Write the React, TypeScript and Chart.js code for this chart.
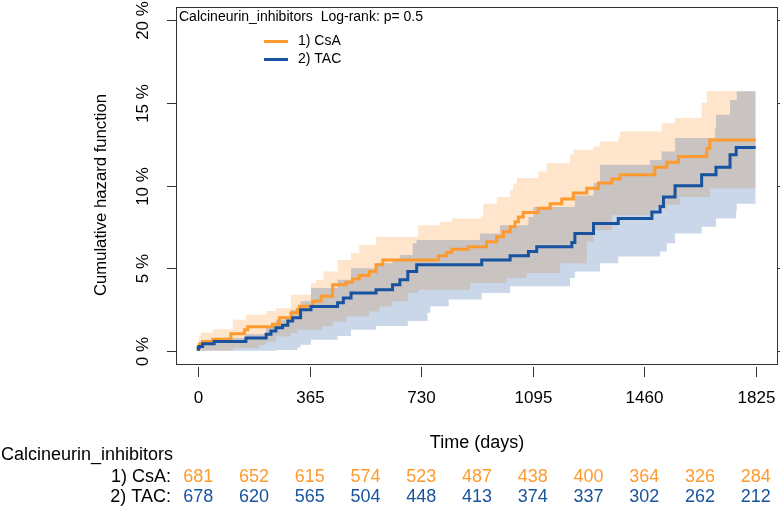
import React, { useEffect, useRef } from "react";
import { Chart, registerables } from "chart.js";

Chart.register(...registerables);

const GROUP_LABEL = "Calcineurin_inhibitors";
const PVALUE_TEXT = "Log-rank: p= 0.5";
const SERIES_NAMES = ["1) CsA", "2) TAC"];
const X_TITLE = "Time (days)";
const Y_TITLE = "Cumulative hazard function";
const X_TICKS = [0, 365, 730, 1095, 1460, 1825];
const Y_TICKS = [0, 5, 10, 15, 20];
const RISK_TIMES = [0, 182.5, 365, 547.5, 730, 912.5, 1095, 1277.5, 1460, 1642.5, 1825];
const RISK_CSA = [681, 652, 615, 574, 523, 487, 438, 400, 364, 326, 284];
const RISK_TAC = [678, 620, 565, 504, 448, 413, 374, 337, 302, 262, 212];

// [day, cumulative hazard %]
const CSA_CURVE: [number, number][] = [
  [0, 0], [3, 0.26], [14, 0.4], [47, 0.56], [107, 0.7], [151, 1.03], [162, 1.27], [243, 1.45],
  [265, 1.6], [303, 2.0], [325, 2.3], [331, 2.5], [375, 2.7], [402, 3.0], [440, 3.3], [484, 4.0],
  [505, 4.15], [527, 4.34], [560, 4.55], [582, 4.8], [604, 5.2], [786, 5.5], [813, 5.75], [830, 5.95],
  [884, 6.15], [944, 6.3], [977, 6.6], [999, 6.9], [1021, 7.2], [1037, 7.5], [1048, 7.8], [1064, 8.1],
  [1113, 8.37], [1152, 8.63], [1190, 8.9], [1228, 9.18], [1272, 9.54], [1310, 9.84], [1354, 10.15],
  [1381, 10.4], [1495, 10.65], [1534, 11.1], [1572, 11.4], [1665, 11.75], [1675, 12.26], [1692, 12.76],
  [1825, 12.76],
];
const TAC_CURVE: [number, number][] = [
  [0, 0], [3, 0.2], [14, 0.26], [52, 0.42], [156, 0.56], [222, 0.77], [238, 1.0], [254, 1.2],
  [276, 1.4], [293, 1.55], [309, 1.8], [335, 2.0], [369, 2.48], [456, 2.68], [475, 2.9], [500, 3.19],
  [582, 3.5], [636, 3.7], [660, 4.0], [686, 4.3], [715, 4.8], [928, 5.2], [1021, 5.5], [1081, 5.75],
  [1108, 6.0], [1223, 6.3], [1233, 6.55], [1294, 7.1], [1375, 7.7], [1485, 8.0], [1512, 8.4],
  [1523, 8.73], [1561, 9.3], [1648, 9.98], [1695, 10.65], [1741, 11.1], [1761, 11.86], [1812, 12.3],
  [1825, 12.3],
];
const CSA_UPPER: [number, number][] = [
  [0, 0.3], [3, 0.56], [8, 0.9], [47, 1.1], [113, 1.3], [156, 1.87], [200, 2.18], [254, 2.4],
  [303, 2.58], [325, 3.39], [385, 4.1], [407, 4.3], [440, 4.8], [484, 5.5], [527, 5.9], [560, 6.4],
  [593, 6.9], [792, 7.6], [830, 7.8], [890, 8.0], [933, 8.2], [977, 8.9], [1010, 9.3], [1031, 9.7],
  [1043, 10.1], [1075, 10.45], [1141, 10.85], [1184, 11.35], [1228, 11.86], [1272, 12.16],
  [1315, 12.36], [1354, 12.66], [1381, 12.9], [1495, 13.27], [1534, 13.77], [1577, 14.08],
  [1665, 15.0], [1675, 15.7], [1825, 15.7],
];
const CSA_LOWER: [number, number][] = [
  [0, 0], [156, 0.16], [222, 0.36], [254, 0.56], [303, 0.87], [325, 1.07], [369, 1.27], [410, 1.5],
  [456, 1.77], [500, 2.08], [582, 2.38], [636, 2.68], [686, 3.0], [720, 3.5], [792, 3.7], [928, 4.1],
  [1021, 4.4], [1113, 4.7], [1217, 5.3], [1294, 6.6], [1315, 7.3], [1375, 8.2], [1517, 8.6],
  [1561, 8.83], [1648, 9.3], [1692, 9.84], [1825, 9.84],
];
const TAC_UPPER: [number, number][] = [
  [0, 0.2], [3, 0.4], [47, 0.56], [156, 0.77], [222, 1.0], [254, 1.47], [303, 1.87], [325, 2.48],
  [369, 3.0], [456, 3.8], [500, 4.3], [582, 5.0], [636, 5.3], [660, 5.5], [686, 5.8], [715, 6.5],
  [750, 6.7], [928, 7.1], [1021, 7.6], [1097, 8.1], [1217, 8.7], [1294, 9.4], [1315, 10.15],
  [1375, 11.25], [1512, 11.55], [1534, 12.06], [1648, 12.87], [1695, 13.47], [1741, 14.28],
  [1761, 15.18], [1812, 15.7], [1825, 15.7],
];
const TAC_LOWER: [number, number][] = [
  [0, 0], [303, 0.05], [335, 0.2], [369, 0.36], [456, 0.67], [500, 0.9], [582, 1.27], [636, 1.5],
  [702, 1.8], [760, 2.3], [820, 2.7], [922, 3.1], [988, 3.5], [1081, 3.9], [1233, 4.4], [1294, 4.8],
  [1375, 5.3], [1479, 5.7], [1517, 6.0], [1561, 6.5], [1648, 7.1], [1692, 7.5], [1741, 8.0],
  [1763, 8.5], [1812, 8.9], [1825, 8.9],
];

const ORANGE = "#FF9A2E";
const BLUE = "#17539F";
const ORANGE_BAND = "rgba(255,153,51,0.25)";
const BLUE_BAND = "rgba(22,84,160,0.23)";
const FONT = '"Liberation Sans", Arial, sans-serif';

function stepAt(curve: [number, number][], t: number) {
  let v = curve[0][1];
  for (const [d, y] of curve) {
    if (d <= t) v = y;
    else break;
  }
  return v;
}

function band(upper: [number, number][], lower: [number, number][]) {
  const xs = Array.from(new Set([...upper.map((p) => p[0]), ...lower.map((p) => p[0])])).sort((a, b) => a - b);
  return {
    up: xs.map((x) => ({ x, y: stepAt(upper, x) })),
    lo: xs.map((x) => ({ x, y: stepAt(lower, x) })),
  };
}

const toPts = (c: [number, number][]) => c.map(([x, y]) => ({ x, y }));

const decor = {
  id: "decor",
  afterDraw(chart: any) {
    const ctx = chart.ctx as CanvasRenderingContext2D;
    const { left, right, top, bottom } = chart.chartArea;
    const xs = chart.scales.x;
    const ys = chart.scales.y;
    ctx.save();
    ctx.strokeStyle = "#333";
    ctx.lineWidth = 1;
    ctx.strokeRect(left + 0.5, top + 0.5, right - left - 1, bottom - top);

    ctx.fillStyle = "#000";
    // y ticks + labels
    ctx.font = `17px ${FONT}`;
    for (const v of Y_TICKS) {
      const y = Math.round(ys.getPixelForValue(v)) + 0.5;
      ctx.beginPath();
      ctx.moveTo(left - 9, y);
      ctx.lineTo(left, y);
      ctx.moveTo(right, y);
      ctx.lineTo(right + 6, y);
      ctx.stroke();
      ctx.save();
      ctx.translate(143, y);
      ctx.rotate(-Math.PI / 2);
      ctx.textAlign = "center";
      ctx.textBaseline = "middle";
      ctx.fillText(`${v} %`, 0, 0);
      ctx.restore();
    }
    // y title
    ctx.save();
    ctx.translate(101, 195);
    ctx.rotate(-Math.PI / 2);
    ctx.textAlign = "center";
    ctx.textBaseline = "middle";
    ctx.font = `16.7px ${FONT}`;
    ctx.fillText(Y_TITLE, 0, 0);
    ctx.restore();

    // x ticks + labels
    ctx.textAlign = "center";
    ctx.textBaseline = "middle";
    ctx.font = `17px ${FONT}`;
    for (const v of X_TICKS) {
      const x = Math.round(xs.getPixelForValue(v)) + 0.5;
      ctx.beginPath();
      ctx.moveTo(x, bottom + 3);
      ctx.lineTo(x, bottom + 13);
      ctx.stroke();
      ctx.fillText(String(v), x, 398);
    }
    ctx.font = `18px ${FONT}`;
    ctx.fillText(X_TITLE, (left + right) / 2, 443);

    // legend inside plot
    ctx.textAlign = "left";
    ctx.font = `14px ${FONT}`;
    ctx.fillText(`${GROUP_LABEL}  ${PVALUE_TEXT}`, 179, 17);
    const legY = [41.5, 59.5];
    const legC = [ORANGE, BLUE];
    for (let i = 0; i < 2; i++) {
      ctx.strokeStyle = legC[i];
      ctx.lineWidth = 3;
      ctx.beginPath();
      ctx.moveTo(264, legY[i]);
      ctx.lineTo(288, legY[i]);
      ctx.stroke();
      ctx.fillStyle = "#000";
      ctx.fillText(SERIES_NAMES[i], 298, legY[i]);
    }

    // risk table
    ctx.font = `18px ${FONT}`;
    ctx.fillStyle = "#000";
    ctx.textAlign = "left";
    ctx.fillText(GROUP_LABEL, 1, 455);
    ctx.textAlign = "right";
    ctx.fillText(SERIES_NAMES[0] + ":", 171, 477);
    ctx.fillText(SERIES_NAMES[1] + ":", 171, 497.5);
    ctx.textAlign = "center";
    RISK_TIMES.forEach((t, i) => {
      const x = xs.getPixelForValue(t);
      ctx.fillStyle = ORANGE;
      ctx.fillText(String(RISK_CSA[i]), x, 477);
      ctx.fillStyle = BLUE;
      ctx.fillText(String(RISK_TAC[i]), x, 497.5);
    });
    ctx.restore();
  },
};

export default function App() {
  const ref = useRef<HTMLCanvasElement | null>(null);
  useEffect(() => {
    document.body.style.margin = "0";
    const canvas = ref.current;
    if (!canvas) return;
    const csaBand = band(CSA_UPPER, CSA_LOWER);
    const tacBand = band(TAC_UPPER, TAC_LOWER);
    const common = { pointRadius: 0, stepped: "after" as const, tension: 0 };
    const chart = new Chart(canvas, {
      type: "line",
      data: {
        datasets: [
          { ...common, label: "csa_up", data: csaBand.up, borderColor: "transparent", borderWidth: 0, fill: false, order: 6 },
          { ...common, label: "csa_lo", data: csaBand.lo, borderColor: "transparent", borderWidth: 0, fill: "-1", backgroundColor: ORANGE_BAND, order: 5 },
          { ...common, label: "tac_up", data: tacBand.up, borderColor: "transparent", borderWidth: 0, fill: false, order: 4 },
          { ...common, label: "tac_lo", data: tacBand.lo, borderColor: "transparent", borderWidth: 0, fill: "-1", backgroundColor: BLUE_BAND, order: 3 },
          { ...common, label: SERIES_NAMES[0], data: toPts(CSA_CURVE), borderColor: ORANGE, borderWidth: 3, fill: false, order: 2 },
          { ...common, label: SERIES_NAMES[1], data: toPts(TAC_CURVE), borderColor: BLUE, borderWidth: 3, fill: false, order: 1 },
        ] as any,
      },
      options: {
        animation: false,
        responsive: false,
        devicePixelRatio: 1,
        layout: { padding: { left: 176, right: 2, top: 7, bottom: 145 } },
        scales: {
          x: { type: "linear", min: -73, max: 1898, display: false },
          y: { type: "linear", min: -0.8, max: 20.8, display: false },
        },
        plugins: { legend: { display: false }, tooltip: { enabled: false } },
      },
      plugins: [decor],
    });
    return () => chart.destroy();
  }, []);
  return (
    <div style={{ width: 780, height: 509, position: "relative", background: "#fff" }}>
      <canvas ref={ref} width={780} height={509} style={{ display: "block" }} />
    </div>
  );
}
